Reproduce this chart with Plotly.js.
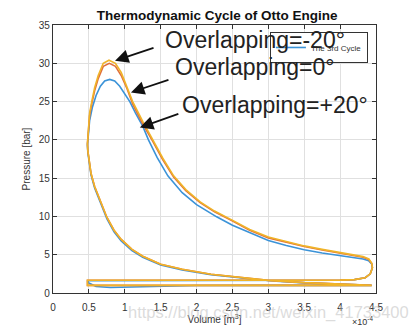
<!DOCTYPE html>
<html><head><meta charset="utf-8">
<script src="https://cdn.plot.ly/plotly-3.0.1.min.js"></script>
<style>html,body{margin:0;padding:0;background:#fff}#chart{width:416px;height:331px}</style>
</head><body><div id="chart"></div>
<script>
// Volume in units of 1e-4 m^3, pressure in bar
const volYellow = [4.44,4.0,3.5,3.0,2.6,2.2,1.8,1.5,1.25,1.1,0.95,0.85,0.75,0.66,0.58,0.53,0.5,0.485,0.48,
  0.49,0.51,0.54,0.58,0.63,0.7,0.78,0.87,0.95,1.03,1.11,1.25,1.39,1.53,1.68,1.85,2.05,2.25,2.47,2.74,3.0,3.25,3.5,3.75,4.0,4.2,4.32,4.4,4.44,4.45,4.42,4.35,4.2,4.0,
  3.0,2.0,1.0,0.48,0.48,1.0,2.0,3.0,4.44];
const presYellow = [1.0,1.15,1.35,1.65,2.05,2.45,3.1,3.75,4.8,5.7,7.0,8.2,9.9,11.9,13.9,15.6,17.3,18.6,19.5,
  21.5,23.5,25.0,26.8,28.4,30.0,30.4,30.0,28.8,27.0,25.0,22.4,20.0,17.6,15.3,13.5,11.9,10.7,9.65,8.3,7.3,6.7,6.15,5.7,5.3,5.0,4.75,4.45,3.9,3.3,2.5,2.0,1.75,1.68,
  1.66,1.66,1.66,1.66,1.0,1.0,1.0,1.0,1.0];

const volOrange = [4.44,4.0,3.5,3.0,2.6,2.2,1.8,1.5,1.25,1.1,0.95,0.85,0.75,0.66,0.58,0.53,0.5,0.485,0.48,
  0.49,0.51,0.54,0.58,0.63,0.7,0.785,0.87,0.95,1.03,1.11,1.25,1.39,1.53,1.68,1.85,2.05,2.25,2.47,2.74,3.0,3.25,3.5,3.75,4.0,4.2,4.32,4.4,4.44,4.45,4.42,4.35,4.2,4.0,
  3.0,2.0,1.0,0.48,0.48,1.0,2.0,3.0,4.44];
const presOrange = [1.0,1.15,1.35,1.65,2.05,2.45,3.1,3.75,4.8,5.7,7.0,8.2,9.9,11.9,13.9,15.6,17.3,18.6,19.5,
  21.3,23.2,24.7,26.4,28.0,29.6,30.0,29.6,28.4,26.7,24.7,22.1,19.8,17.4,15.15,13.35,11.8,10.6,9.55,8.2,7.2,6.6,6.07,5.62,5.22,4.93,4.68,4.38,3.85,3.3,2.5,2.0,1.75,1.68,
  1.66,1.66,1.66,1.66,1.0,1.0,1.0,1.0,1.0];

const volBlue = [4.44,4.0,3.5,3.0,2.6,2.2,1.8,1.5,1.25,1.1,0.95,0.85,0.75,0.66,0.58,0.53,0.5,0.485,0.48,
  0.485,0.49,0.51,0.55,0.6,0.66,0.72,0.79,0.86,0.93,1.0,1.07,1.15,1.25,1.33,1.45,1.6,1.8,2.0,2.28,2.5,2.74,3.0,3.25,3.5,3.75,4.0,4.2,4.32,4.4,4.44,4.45,4.42,4.35,4.2,4.0,
  3.0,2.0,1.0,0.6,0.48,0.5,0.6,0.8,1.1,1.5,2.0,3.0,4.44];
const presBlue = [1.0,1.13,1.32,1.6,2.0,2.4,3.0,3.65,4.65,5.55,6.8,8.0,9.7,11.7,13.7,15.4,17.1,18.4,19.3,
  20.0,21.0,22.5,24.3,25.8,27.0,27.7,27.9,27.7,27.0,26.0,25.0,23.5,21.8,20.0,17.7,15.3,13.1,11.55,9.95,8.85,7.85,6.85,6.2,5.65,5.22,4.85,4.6,4.45,4.2,3.8,3.3,2.5,2.0,1.75,1.66,
  1.62,1.62,1.62,1.62,1.6,1.3,0.85,0.72,0.78,0.9,0.98,1.0,1.0];

const xTicks = [0,0.5,1,1.5,2,2.5,3,3.5,4,4.5];
const xTickText = ['0','0.5','1','1.5','2','2.5','3','3.5','4','4.5'];
const yTicks = [0,5,10,15,20,25,30,35];
const seriesNames = ['The 3rd Cycle','Overlapping=0°','Overlapping=-20°'];

const traces = [
  {x: volBlue, y: presBlue, mode:'lines', name: seriesNames[0], line:{color:'#3b93d8', width:1.6}, showlegend:true},
  {x: volOrange, y: presOrange, mode:'lines', name: seriesNames[1], line:{color:'#e0703c', width:1.6}, showlegend:false},
  {x: volYellow, y: presYellow, mode:'lines', name: seriesNames[2], line:{color:'#f0b429', width:1.6}, showlegend:false}
];

const axCommon = {showline:true, mirror:'ticks', linecolor:'#333', linewidth:1.2,
  ticks:'inside', ticklen:4, tickcolor:'#333', showgrid:true, gridcolor:'#e0e0e0', gridwidth:1,
  zeroline:false, tickfont:{family:'Liberation Sans, Arial', size:10, color:'#333'}};

const arrowStyle = {showarrow:true, arrowhead:2, arrowsize:1.5, arrowwidth:1.8, arrowcolor:'#111', text:''};
const annFont = {family:'Liberation Sans, Arial', size:23, color:'#222'};

const layout = {
  width:416, height:331,
  margin:{l:53, r:40, t:25, b:38},
  paper_bgcolor:'#fff', plot_bgcolor:'#fff',
  title:{text:'<b>Thermodynamic Cycle of Otto Engine</b>', x:0.522, xanchor:'center', y:0.953, yanchor:'middle',
    font:{family:'Liberation Sans, Arial', size:13.5, color:'#111'}},
  xaxis: Object.assign({}, axCommon, {range:[0,4.5], tickvals:xTicks, ticktext:xTickText, ticklabelstandoff:5,
    title:{text:'Volume [m<sup>3</sup>]', standoff:2, font:{family:'Liberation Sans, Arial', size:10, color:'#333'}}}),
  yaxis: Object.assign({}, axCommon, {range:[0,35], tickvals:yTicks,
    title:{text:'Pressure [bar]', standoff:6, font:{family:'Liberation Sans, Arial', size:10, color:'#333'}}}),
  legend:{x:0.975, xanchor:'right', y:0.974, yanchor:'top', bgcolor:'#fff', bordercolor:'#333', borderwidth:1,
    font:{family:'Liberation Sans, Arial', size:8, color:'#333'}, itemwidth:30, tracegroupgap:0},
  annotations:[
    Object.assign({}, arrowStyle, {x:0.864, y:30.33, xref:'x', yref:'y', ax:40, ay:-13.4}),
    Object.assign({}, arrowStyle, {x:1.086, y:26.2, xref:'x', yref:'y', ax:39, ay:-13}),
    Object.assign({}, arrowStyle, {x:1.21, y:21.6, xref:'x', yref:'y', ax:40, ay:-14.3}),
    {text:'Overlapping=-20°', xref:'paper', yref:'paper', x:(163-53)/323, y:(293-40)/268, xanchor:'left', yanchor:'middle', showarrow:false, font:annFont},
    {text:'Overlapping=0°', xref:'paper', yref:'paper', x:(173-53)/323, y:(293-67)/268, xanchor:'left', yanchor:'middle', showarrow:false, font:annFont},
    {text:'Overlapping=+20°', xref:'paper', yref:'paper', x:(180-53)/323, y:(293-105)/268, xanchor:'left', yanchor:'middle', showarrow:false, font:annFont},
    {text:'×10<sup>-4</sup>', xref:'paper', yref:'paper', x:(362-53)/323, y:(293-321)/268, xanchor:'center', yanchor:'middle', showarrow:false, font:{family:'Liberation Sans, Arial', size:9, color:'#333'}},
    {text:'https://blog.csdn.net/weixin_41733400', xref:'paper', yref:'paper', x:(411-53)/323, y:(293-312)/268, xanchor:'right', yanchor:'middle', showarrow:false, font:{family:'Liberation Sans, Arial', size:16.5, color:'rgba(190,190,190,0.55)'}}
  ]
};

Plotly.newPlot('chart', traces, layout, {displayModeBar:false, staticPlot:true});
</script>
</body></html>
